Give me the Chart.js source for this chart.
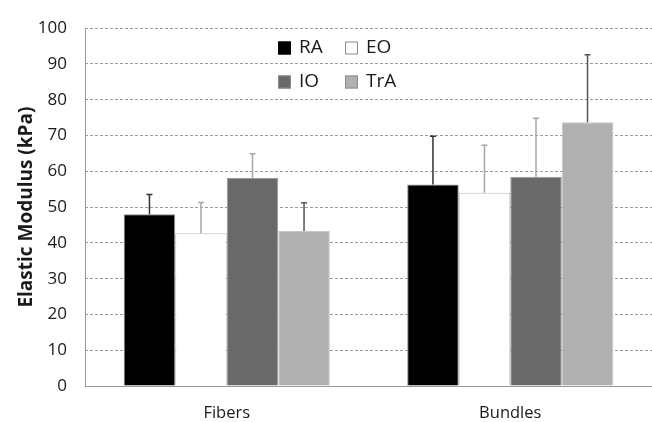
<!DOCTYPE html>
<html>
<head>
<meta charset="utf-8">
<script src="https://cdn.jsdelivr.net/npm/chart.js@4"></script>
<style>
  html, body { margin: 0; padding: 0; background: #fff; }
  #wrap { width: 652px; height: 422px; }
</style>
</head>
<body>
<div id="wrap"><canvas id="chart" width="652" height="422"></canvas></div>
<script>
const categories = ["Fibers", "Bundles"];
const seriesNames = ["RA", "EO", "IO", "TrA"];
const raValues = [48.0, 56.3];
const eoValues = [42.7, 54.0];
const ioValues = [58.1, 58.5];
const traValues = [43.3, 73.7];
const raSD = [5.5, 13.5];
const eoSD = [8.6, 13.3];
const ioSD = [6.8, 16.3];
const traSD = [7.9, 18.9];
const yTicks = [0, 10, 20, 30, 40, 50, 60, 70, 80, 90, 100];

const fills = ["#000000", "#ffffff", "#696969", "#b0b0b0"];
const edges = ["#8c8c8c", "#bfbfbf", "#9a9a9a", "#c4c4c4"];
const errColors = ["#333333", "#a6a6a6", "#a6a6a6", "#555555"];
const fontFamily = "'Open Sans', 'Liberation Sans', sans-serif";

const values = [raValues, eoValues, ioValues, traValues];
const sds = [raSD, eoSD, ioSD, traSD];

// error bars (upper only) drawn from the bar elements and the y scale
const errorBars = {
  id: "errorBars",
  afterDatasetsDraw(chart) {
    const { ctx, scales: { y } } = chart;
    ctx.save();
    chart.data.datasets.forEach((ds, i) => {
      const meta = chart.getDatasetMeta(i);
      meta.data.forEach((bar, j) => {
        const top = y.getPixelForValue(ds.data[j] + ds.sd[j]);
        const base = y.getPixelForValue(ds.data[j]);
        ctx.strokeStyle = ds.errColor;
        ctx.lineWidth = 1.5;
        ctx.beginPath();
        ctx.moveTo(bar.x, base);
        ctx.lineTo(bar.x, top);
        ctx.moveTo(bar.x - 3, top);
        ctx.lineTo(bar.x + 3, top);
        ctx.stroke();
      });
    });
    ctx.restore();
  }
};

// left axis line + 2x2 legend inside the plot
const extras = {
  id: "extras",
  afterDraw(chart) {
    const { ctx, chartArea } = chart;
    ctx.save();
    ctx.strokeStyle = "#9a9a9a";
    ctx.lineWidth = 1;
    ctx.beginPath();
    ctx.moveTo(chartArea.left + 0.5, chartArea.top);
    ctx.lineTo(chartArea.left + 0.5, chartArea.bottom);
    ctx.stroke();

    ctx.font = "19px " + fontFamily;
    ctx.textBaseline = "middle";
    chart.data.datasets.forEach((ds, i) => {
      const col = i % 2, row = Math.floor(i / 2);
      const x = 278 + col * 67;
      const y = 48 + row * 34;
      ctx.fillStyle = ds.backgroundColor;
      ctx.fillRect(x, y - 6.5, 13, 13);
      ctx.strokeStyle = i === 0 ? "#000" : "#8c8c8c";
      ctx.strokeRect(x + 0.5, y - 6, 12, 12);
      ctx.fillStyle = "#1a1a1a";
      ctx.fillText(ds.label, x + 21, y);
    });
    ctx.restore();
  }
};

new Chart(document.getElementById("chart"), {
  type: "bar",
  data: {
    labels: categories,
    datasets: seriesNames.map((name, i) => ({
      label: name,
      data: values[i],
      sd: sds[i],
      errColor: errColors[i],
      backgroundColor: fills[i],
      borderColor: edges[i],
      borderWidth: 1,
      categoryPercentage: 0.727,
      barPercentage: 1.0
    }))
  },
  options: {
    responsive: false,
    animation: false,
    layout: { padding: { top: 22, right: 0, bottom: 0, left: 0 } },
    plugins: { legend: { display: false }, tooltip: { enabled: false } },
    scales: {
      x: {
        grid: { display: false },
        border: { color: "#9a9a9a", width: 1 },
        ticks: { color: "#1a1a1a", font: { family: fontFamily, size: 16.5 }, padding: 9 },
        afterFit: s => { s.height = 36; }
      },
      y: {
        min: 0,
        max: 100,
        afterBuildTicks: s => { s.ticks = yTicks.map(v => ({ value: v })); },
        grid: { color: "#9a9a9a", lineWidth: 1, drawTicks: false },
        border: { display: false, dash: [3, 2] },
        ticks: { color: "#1a1a1a", font: { family: fontFamily, size: 17 }, padding: 18 },
        title: {
          display: true,
          text: "Elastic Modulus (kPa)",
          color: "#1a1a1a",
          font: { family: fontFamily, size: 19, weight: "bold" },
          padding: { top: 15, bottom: 0 }
        },
        afterFit: s => { s.width = 85; }
      }
    }
  },
  plugins: [errorBars, extras]
});
</script>
</body>
</html>
